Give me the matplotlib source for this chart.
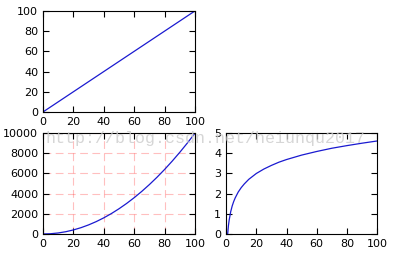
import matplotlib
matplotlib.use("Agg")
import matplotlib.pyplot as plt

# 数据
x_lin = [0, 100]
y_lin = [0, 100]

x_sq = [0, 5, 10, 15, 20, 25, 30, 35, 40, 45, 50, 55, 60, 65, 70, 75, 80, 85, 90, 95, 100]
y_sq = [0, 25, 100, 225, 400, 625, 900, 1225, 1600, 2025, 2500, 3025, 3600,
        4225, 4900, 5625, 6400, 7225, 8100, 9025, 10000]

x_log = [1, 1.5, 2, 3, 4, 5, 6, 8, 10, 12, 15, 20, 25, 30, 35, 40, 50, 60, 70, 80, 90, 100]
y_log = [0, 0.41, 0.69, 1.10, 1.39, 1.61, 1.79, 2.08, 2.30, 2.48, 2.71, 3.00,
         3.22, 3.40, 3.56, 3.69, 3.91, 4.09, 4.25, 4.38, 4.50, 4.61]

plt.rcParams['font.size'] = 8
plt.rcParams['xtick.direction'] = 'in'
plt.rcParams['ytick.direction'] = 'in'
plt.rcParams['xtick.top'] = True
plt.rcParams['ytick.right'] = True
plt.rcParams['xtick.major.size'] = 4
plt.rcParams['ytick.major.size'] = 4

fig = plt.figure(figsize=(3.94, 2.56), dpi=100)

ax1 = fig.add_axes([0.109, 0.5625, 0.386, 0.395])
ax1.plot(x_lin, y_lin, color='#1a1ad0', lw=0.9)
ax1.set_xlim(0, 100)
ax1.set_ylim(0, 100)
ax1.set_xticks([0, 20, 40, 60, 80, 100])
ax1.set_yticks([0, 20, 40, 60, 80, 100])

ax2 = fig.add_axes([0.109, 0.086, 0.386, 0.394])
ax2.plot(x_sq, y_sq, color='#1a1ad0', lw=0.9)
ax2.set_xlim(0, 100)
ax2.set_ylim(0, 10000)
ax2.set_xticks([0, 20, 40, 60, 80, 100])
ax2.set_yticks([0, 2000, 4000, 6000, 8000, 10000])
ax2.grid(True, color='r', alpha=0.25, linestyle=(0, (7, 4)), lw=0.8)

ax3 = fig.add_axes([0.574, 0.086, 0.383, 0.394])
ax3.plot(x_log, y_log, color='#1a1ad0', lw=0.9)
ax3.set_xlim(0, 100)
ax3.set_ylim(0, 5)
ax3.set_xticks([0, 20, 40, 60, 80, 100])
ax3.set_yticks([0, 1, 2, 3, 4, 5])

# 水印（原图中压在刻度标签上）
fig.text(0.115, 0.49, 'http://blog.csdn.net/heiunqu2017', family='Liberation Mono',
         fontsize=12, color='#cccccc', alpha=0.8, va='top')

fig.savefig('out.png', dpi=100)
